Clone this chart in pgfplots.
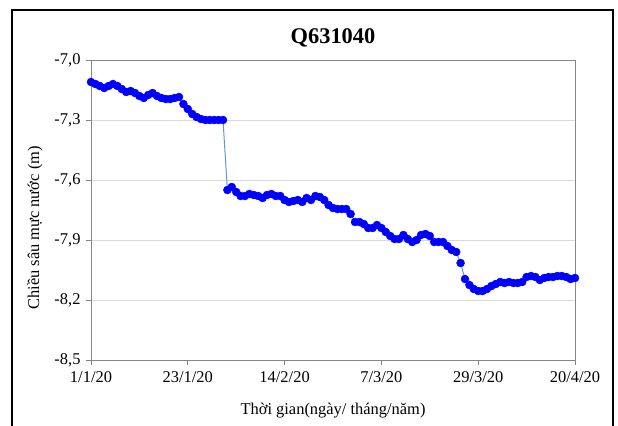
\documentclass[border=0pt]{standalone}
\usepackage{pgfplots}
\pgfplotsset{compat=1.18}
\usepackage{pgfplotstable}
\usepackage{fontspec}
\setmainfont{Liberation Serif}
\definecolor{ptblue}{RGB}{0,0,255}
\definecolor{lnblue}{RGB}{91,155,213}
\definecolor{gridc}{RGB}{217,217,217}
\definecolor{axc}{RGB}{134,134,134}
\pgfplotstableread{
d v
0 -7.11
1 -7.12
2 -7.13
3 -7.14
4 -7.13
5 -7.12
6 -7.13
7 -7.145
8 -7.16
9 -7.155
10 -7.165
11 -7.18
12 -7.19
13 -7.175
14 -7.165
15 -7.18
16 -7.19
17 -7.195
18 -7.195
19 -7.19
20 -7.185
21 -7.22
22 -7.245
23 -7.27
24 -7.285
25 -7.295
26 -7.30
27 -7.30
28 -7.30
29 -7.30
30 -7.30
31 -7.65
32 -7.635
33 -7.66
34 -7.68
35 -7.68
36 -7.67
37 -7.675
38 -7.68
39 -7.69
40 -7.675
41 -7.67
42 -7.68
43 -7.68
44 -7.70
45 -7.71
46 -7.705
47 -7.70
48 -7.71
49 -7.69
50 -7.70
51 -7.68
52 -7.685
53 -7.70
54 -7.725
55 -7.74
56 -7.745
57 -7.745
58 -7.745
59 -7.77
60 -7.81
61 -7.81
62 -7.82
63 -7.84
64 -7.84
65 -7.825
66 -7.84
67 -7.86
68 -7.88
69 -7.895
70 -7.895
71 -7.875
72 -7.895
73 -7.91
74 -7.90
75 -7.875
76 -7.87
77 -7.88
78 -7.91
79 -7.91
80 -7.91
81 -7.93
82 -7.95
83 -7.96
84 -8.015
85 -8.095
86 -8.125
87 -8.145
88 -8.155
89 -8.155
90 -8.145
91 -8.13
92 -8.12
93 -8.11
94 -8.115
95 -8.11
96 -8.115
97 -8.115
98 -8.11
99 -8.085
100 -8.08
101 -8.085
102 -8.10
103 -8.09
104 -8.085
105 -8.085
106 -8.08
107 -8.08
108 -8.085
109 -8.095
110 -8.09
}\dataQ
\begin{document}
\begin{tikzpicture}[x=1bp,y=1bp]
\useasboundingbox (-91,-65) rectangle (527,360);
\draw[line width=1.3bp,black] (-79,-90) rectangle (522,350);
\begin{axis}[
  at={(0,0)}, anchor=south west,
  scale only axis, width=484bp, height=300bp,
  xmin=0, xmax=110, ymin=-8.5, ymax=-7.0,
  xtick={0,22,44,66,88,110},
  xticklabels={1/1/20,23/1/20,14/2/20,7/3/20,29/3/20,20/4/20},
  ytick={-8.5,-8.2,-7.9,-7.6,-7.3,-7.0},
  yticklabels={{-8,5},{-8,2},{-7,9},{-7,6},{-7,3},{-7,0}},
  tick pos=left, tick align=outside, major tick length=5bp,
  tick style={axc, line width=0.8bp},
  axis line style={axc, line width=0.8bp},
  ymajorgrids, grid style={gridc, line width=0.8bp},
  ticklabel style={font=\fontsize{16.5}{19}\selectfont, text=black},
  xticklabel style={yshift=-3bp},
  yticklabel style={xshift=-2bp},
  xlabel={Thời gian(ngày/ tháng/năm)},
  ylabel={Chiều sâu mực nước (m)},
  label style={font=\fontsize{16.5}{19}\selectfont},
  xlabel style={at={(axis description cs:0.5,-0.17)}, anchor=center},
  ylabel style={at={(axis description cs:-0.116,0.44)}, anchor=center},
  clip=false,
]
\addplot[lnblue, line width=1bp, mark=*, mark size=4bp,
  mark options={draw=ptblue, fill=ptblue, line width=0.4bp, solid}] table[x=d,y=v] {\dataQ};
\end{axis}
\node[font=\bfseries\fontsize{22.5}{26}\selectfont] at (242,322) {Q631040};
\end{tikzpicture}
\end{document}
